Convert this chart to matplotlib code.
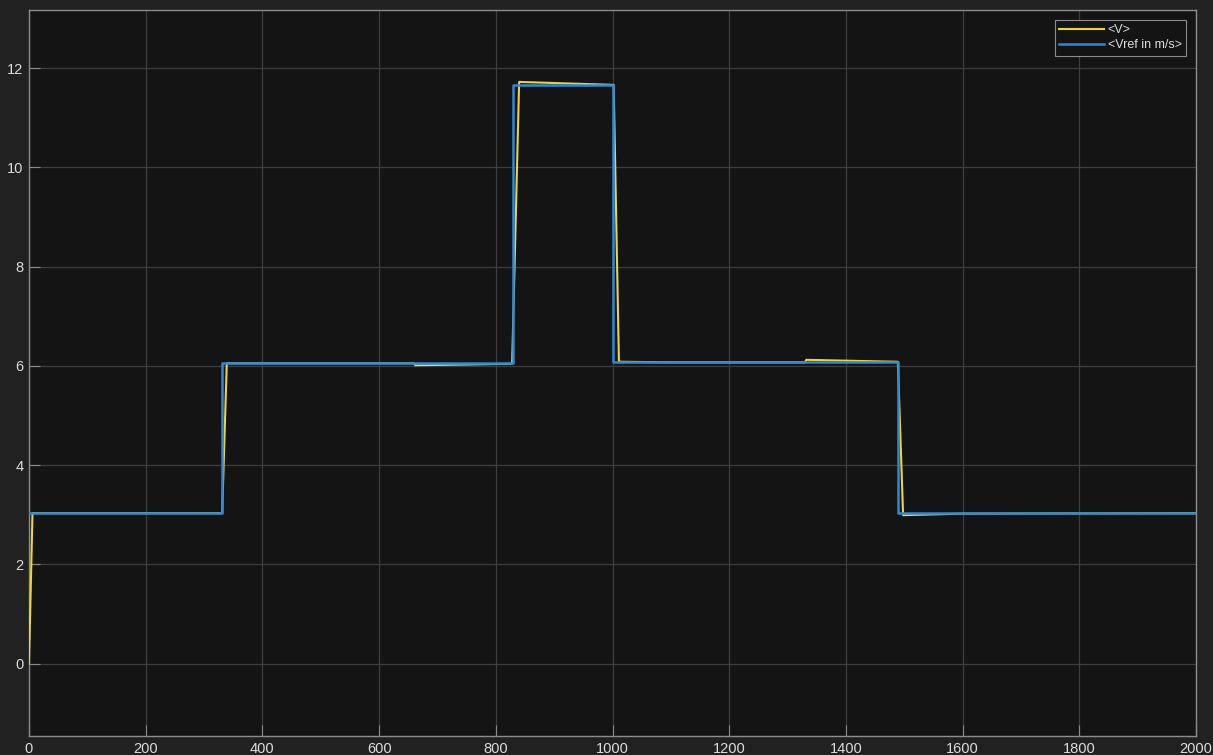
import matplotlib
matplotlib.use("Agg")
import matplotlib.pyplot as plt

# measured speed <V>
v_time = [0, 6, 331, 339, 660, 662, 828, 840, 1002, 1011, 1014, 1100,
          1330, 1332, 1489, 1498, 1600, 2000]
v_vals = [0.0, 3.03, 3.03, 6.05, 6.05, 6.01, 6.04, 11.72, 11.66, 6.09, 6.08, 6.07,
          6.07, 6.12, 6.08, 2.99, 3.02, 3.03]

# reference speed <Vref in m/s> (piecewise constant)
ref_time = [0, 331, 829, 1001, 1489, 2000]
ref_vals = [3.03, 6.05, 11.65, 6.07, 3.03, 3.03]

x_ticks = list(range(0, 2001, 200))
y_ticks = [0, 2, 4, 6, 8, 10, 12]

FIG_BG = "#212121"
AX_BG = "#141414"
FG = "#dcdcdc"

plt.rcParams["font.family"] = ["Liberation Sans", "DejaVu Sans"]

fig = plt.figure(figsize=(12.13, 7.55), dpi=100, facecolor=FIG_BG)
ax = fig.add_axes([0.0239, 0.0252, 0.9621, 0.9616], facecolor=AX_BG)

ax.plot(v_time, v_vals, color="#ecd33f", lw=1.5, label="<V>", zorder=3)
ax.plot(ref_time, ref_vals, color="#2d88d8", lw=1.8, drawstyle="steps-post",
        label="<Vref in m/s>", zorder=4)

ax.set_xlim(0, 2000)
ax.set_ylim(-1.46, 13.17)
ax.set_xticks(x_ticks)
ax.set_yticks(y_ticks)
ax.grid(True, color="#3e3e3e", lw=0.9)
ax.set_axisbelow(True)

for spine in ax.spines.values():
    spine.set_color("#8c8c8c")
    spine.set_linewidth(1.0)

ax.tick_params(direction="in", length=8, width=0.8, color="#8a8a8a",
               labelcolor=FG, labelsize=10.5, pad=4)

leg = ax.legend(loc="upper right", prop={"size": 9}, frameon=True, facecolor=AX_BG,
                edgecolor="#8c8c8c", labelcolor=FG, handlelength=3.6,
                handletextpad=0.3, borderpad=0.35, labelspacing=0.25,
                borderaxespad=0.8, fancybox=False)
leg.get_frame().set_linewidth(0.8)
leg.get_frame().set_alpha(1.0)

fig.savefig("out.png", dpi=100, facecolor=FIG_BG)
